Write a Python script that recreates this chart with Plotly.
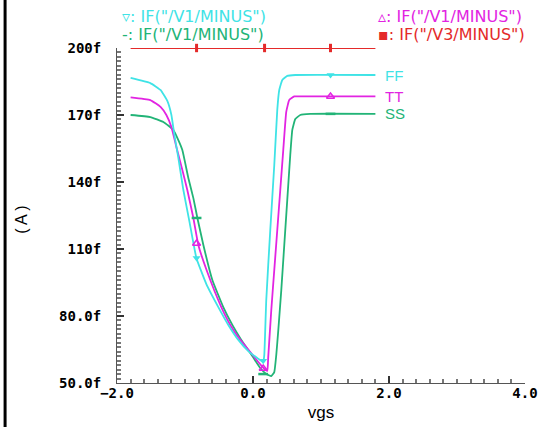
import plotly.graph_objects as go

# ---- data (vgs in V, current in fA) ----
vgs_ff = [-1.80, -1.51, -1.36, -1.26, -1.20, -1.156, -1.098, -1.024, -0.936, -0.833,
          -0.686, -0.510, -0.363, -0.216, -0.069, 0.063, 0.151, 0.166, 0.195, 0.254,
          0.313, 0.357, 0.386, 0.431, 0.504, 0.622, 1.80]
i_ff = [186.6, 184.3, 181.2, 176.3, 170.0, 161.1, 150.8, 136.4, 122.5, 106.0,
        94.3, 84.0, 76.0, 69.3, 64.3, 61.2, 59.4, 62.5, 87.2, 118.5,
        147.6, 172.3, 181.2, 185.7, 187.5, 187.9, 187.9]

vgs_tt = [-1.80, -1.51, -1.36, -1.274, -1.20, -1.127, -1.039, -0.966, -0.877, -0.804,
          -0.672, -0.466, -0.334, -0.187, -0.040, 0.078, 0.166, 0.210, 0.224, 0.269,
          0.313, 0.357, 0.401, 0.445, 0.489, 0.533, 0.607, 0.768, 1.80]
i_tt = [177.9, 176.7, 173.6, 170.0, 164.6, 155.7, 145.4, 136.4, 123.9, 111.8,
        99.7, 84.0, 76.0, 69.3, 63.9, 59.4, 56.3, 55.4, 61.6, 82.7,
        100.6, 118.5, 136.4, 154.3, 171.4, 176.7, 178.3, 178.3, 178.3]

vgs_ss = [-1.80, -1.51, -1.318, -1.171, -1.098, -1.039, -0.951, -0.877, -0.818, -0.730,
          -0.598, -0.437, -0.304, -0.172, -0.010, 0.107, 0.195, 0.269, 0.313, 0.342,
          0.372, 0.416, 0.460, 0.504, 0.548, 0.578, 0.622, 0.695, 0.842, 1.80]
i_ss = [170.0, 169.1, 166.9, 163.3, 158.8, 154.3, 141.8, 132.8, 123.9, 111.8,
        96.1, 84.0, 76.0, 69.3, 62.1, 56.7, 54.0, 53.1, 54.9, 62.5,
        73.7, 91.6, 111.8, 132.0, 152.1, 163.3, 168.2, 170.0, 170.5, 170.5]

vgs_v3 = [-1.80, 1.80]
i_v3 = [200.0, 200.0]

mark_vgs = [-0.83, 0.15, 1.14]
ff_marks = [106.0, 60.0, 187.9]
tt_marks = [112.5, 56.5, 178.3]
ss_marks = [123.9, 54.0, 170.5]
v3_mark_vgs = [-0.83, 0.17, 1.14]
v3_marks = [200.0, 200.0, 200.0]

series_names = ["FF", "TT", "SS"]
end_values = [187.9, 178.3, 170.5]

y_ticks = [50, 80, 110, 140, 170, 200]
y_labels = ["50.0f", "80.0f", "110f", "140f", "170f", "200f"]
x_ticks = [-2, 0, 2, 4]
x_labels = ["\u22122.0", "0.0", "2.0", "4.0"]

legend_texts = ['\u25bf: IF("/V1/MINUS")', '\u25b5: IF("/V1/MINUS")',
                '-: IF("/V1/MINUS")', '\u25aa: IF("/V3/MINUS")']

CYAN = "#3fe3e6"
MAG = "#e224e2"
GRN = "#22b477"
RED = "#e42a2a"

LINE = dict(width=1.8, shape="spline", smoothing=0.35)

fig = go.Figure()
fig.add_trace(go.Scatter(x=vgs_v3, y=i_v3, mode="lines", line=dict(color=RED, width=2),
                         cliponaxis=False, hoverinfo="skip"))
fig.add_trace(go.Scatter(x=v3_mark_vgs, y=v3_marks, mode="markers",
                         marker=dict(color=RED, size=6, symbol="line-ns", line=dict(color=RED, width=3)),
                         cliponaxis=False))
fig.add_trace(go.Scatter(x=vgs_ss, y=i_ss, mode="lines", line=dict(color=GRN, **LINE)))
fig.add_trace(go.Scatter(x=vgs_tt, y=i_tt, mode="lines", line=dict(color=MAG, **LINE)))
fig.add_trace(go.Scatter(x=vgs_ff, y=i_ff, mode="lines", line=dict(color=CYAN, **LINE)))
fig.add_trace(go.Scatter(x=mark_vgs, y=tt_marks, mode="markers",
                         marker=dict(color=MAG, size=7, symbol="triangle-up-open", line=dict(width=1.5))))
fig.add_trace(go.Scatter(x=mark_vgs, y=ss_marks, mode="markers",
                         marker=dict(color=GRN, size=7, symbol="line-ew", line=dict(color=GRN, width=2.5))))
fig.add_trace(go.Scatter(x=mark_vgs, y=ff_marks, mode="markers",
                         marker=dict(color=CYAN, size=7, symbol="triangle-down")))

annotations = []
for name, val, col in zip(series_names, end_values, [CYAN, MAG, GRN]):
    annotations.append(dict(x=1.91, y=val, xref="x", yref="y", text=name, showarrow=False,
                            xanchor="left", yanchor="middle",
                            font=dict(family="Liberation Sans", size=15, color=col)))

leg_pos = [(0.007, 1.0955), (0.635, 1.0955), (0.007, 1.039), (0.635, 1.039)]
for txt, (px, py), col in zip(legend_texts, leg_pos, [CYAN, MAG, GRN, RED]):
    annotations.append(dict(x=px, y=py, xref="paper", yref="paper", text=txt, showarrow=False,
                            xanchor="left", yanchor="middle",
                            font=dict(family="DejaVu Sans", size=16, color=col)))

annotations.append(dict(x=-0.233, y=0.487, xref="paper", yref="paper", text="( A )",
                        showarrow=False, textangle=-90, xanchor="center", yanchor="middle",
                        font=dict(family="Liberation Sans", size=16, color="black")))

fig.update_layout(
    width=550, height=427,
    margin=dict(l=117, r=25, t=48, b=44, autoexpand=False),
    paper_bgcolor="white", plot_bgcolor="white",
    showlegend=False,
    annotations=annotations,
    shapes=[dict(type="line", xref="paper", yref="paper", x0=-0.2743, x1=-0.2743,
                 y0=-0.14, y1=1.15, line=dict(color="black", width=3))],
)
fig.update_xaxes(range=[-2, 4], tickvals=x_ticks, ticktext=x_labels, automargin=False,
                 showgrid=False, zeroline=False, showline=True, linecolor="#555", linewidth=1,
                 ticks="inside", ticklen=7, tickcolor="#333", tickwidth=1.5,
                 minor=dict(dtick=0.2, ticks="inside", ticklen=4, tickcolor="#777", showgrid=False),
                 tickfont=dict(family="DejaVu Sans Mono", size=14, color="black", weight="bold"),
                 ticklabelstandoff=-3,
                 title=dict(text="vgs", font=dict(family="Liberation Sans", size=17, color="black"),
                            standoff=6))
fig.update_yaxes(range=[50, 200], tickvals=y_ticks, ticktext=y_labels, automargin=False,
                 showgrid=False, zeroline=False, showline=True, linecolor="#555", linewidth=1,
                 ticks="inside", ticklen=7, tickcolor="#333", tickwidth=1.5,
                 minor=dict(dtick=2, ticks="inside", ticklen=4, tickcolor="#777", showgrid=False),
                 tickfont=dict(family="DejaVu Sans Mono", size=14, color="black", weight="bold"),
                 ticklabelstandoff=12)

fig.write_html("out.html", config={"displayModeBar": False},
               post_script="document.body.style.margin='0px';")
